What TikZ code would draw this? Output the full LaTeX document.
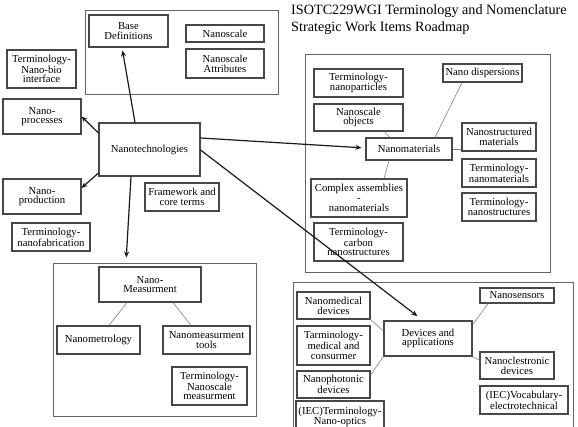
\documentclass[tikz,border=0pt]{standalone}
\usepackage{fontspec}
\setmainfont{Liberation Serif}
\usetikzlibrary{arrows.meta}
\newcommand\mybox[7][box]{%
  \node[#1, minimum width={#5-#3}, minimum height={#6-#4}] (#2) at ({(#3+#5)/2},{(#4+#6)/2}) {#7};}
\begin{document}
\begin{tikzpicture}[x=1pt,y=-1pt,
  box/.style={draw=black!72, line width=1.1pt, fill=white, inner sep=0pt, align=center,
    font=\fontsize{10.7}{9.7}\selectfont, text=black},
  cont/.style={draw=black!60, line width=0.9pt, inner sep=0pt},
  arr/.style={-{Stealth[length=6pt,width=5pt]}, line width=1.2pt, draw=black!90},
  thinline/.style={draw=black!50, line width=0.6pt}]
\useasboundingbox (0,0) rectangle (578,427);
\fill[white] (0,0) rectangle (578,427);

% title
\node[anchor=north west, inner sep=0pt, align=left, font=\fontsize{14.2}{17}\selectfont, text=black]
  (title) at (291,4) {ISOTC229WGI Terminology and Nomenclature\\Strategic Work Items Roadmap};

% containers
\mybox[cont]{topC}{85}{10}{278}{94}{}
\mybox[cont]{measC}{53}{263}{256}{416}{}
\mybox[cont]{matC}{305}{54}{550}{272}{}
\mybox[cont]{devC}{293}{282}{573}{445}{}

% top group
\mybox{base}{89}{15}{168}{47}{Base\\Definitions}
\mybox{nscale}{186}{25}{264}{42}{Nanoscale}
\mybox{nattr}{186}{49}{264}{78}{Nanoscale\\Attributes}

% left column
\mybox{nanobio}{7}{50}{76}{88}{Terminology-\\Nano-bio\\interface}
\mybox{nproc}{3}{99}{81}{134}{Nano-\\processes}
\mybox{ntech}{99}{123}{200}{176}{Nanotechnologies}
\mybox{nprod}{3}{179}{81}{214}{Nano-\\production}
\mybox{frame}{145}{183}{219}{211}{Framework and\\core terms}
\mybox{nfab}{12}{223}{90}{251}{Terminology-\\nanofabrication}

% measurement group
\mybox{nmeas}{99}{267}{201}{302}{Nano-\\Measurment}
\mybox{nmetro}{57}{326}{140}{354}{Nanometrology}
\mybox{nmtools}{163}{326}{250}{354}{Nanomeasurment\\tools}
\mybox{nsmeas}{172}{367}{247}{405}{Terminology-\\Nanoscale\\measurment}

% materials group
\mybox{tnp}{314}{69}{403}{97}{Terminology-\\nanoparticles}
\mybox{nsobj}{314}{104}{403}{131}{Nanoscale\\objects}
\mybox{ndisp}{443}{64}{522}{82}{Nano dispersions}
\mybox{nstruct}{462}{123}{536}{151}{Nanostructured\\materials}
\mybox{nmat}{366}{138}{452}{160}{Nanomaterials}
\mybox{tnm}{462}{159}{536}{187}{Terminology-\\nanomaterials}
\mybox{tns}{462}{193}{536}{221}{Terminology-\\nanostructures}
\mybox{cass}{311}{179}{407}{217}{Complex assemblies\\-\\nanomaterials}
\mybox{tcarb}{314}{223}{403}{261}{Terminology-\\carbon\\nanostructures}

% devices group
\mybox{nmed}{297}{292}{370}{319}{Nanomedical\\devices}
\mybox{tmed}{297}{326}{370}{365}{Tarminology-\\medical and\\consurmer}
\mybox{nphot}{297}{371}{370}{398}{Nanophotonic\\devices}
\mybox{iecopt}{296}{401}{384}{433}{(IEC)Terminology-\\Nano-optics}
\mybox{dev}{384}{321}{472}{356}{Devices and\\applications}
\mybox{nsens}{480}{288}{554}{303}{Nanosensors}
\mybox{nelec}{480}{352}{554}{379}{Nanoclestronic\\devices}
\mybox{iecvoc}{480}{386}{568}{414}{(IEC)Vocabulary-\\electrotechnical}

% thin connectors
\draw[thinline] (ndisp.south -| 462,0) -- (nmat.north -| 435,0);
\draw[thinline] (nsobj.south -| 384,0) -- (nmat.north -| 390,0);
\draw[thinline] (nmat.east) -- (nstruct.west |- nmat.east);
\draw[thinline] (nmat.south -| 389,0) -- (cass.north -| 384,0);
\draw[thinline] (nmeas.south -| 127,0) -- (nmetro.north -| 109,0);
\draw[thinline] (nmeas.south -| 173,0) -- (nmtools.north -| 191,0);
\draw[thinline] (nmed.south east) -- (dev.west |- 0,331);
\draw[thinline] (nphot.east |- 0,375) -- (dev.south west);
\draw[thinline] (nsens.south -| 488,0) -- (dev.east |- 0,325);
\draw[thinline] (dev.south east) -- (nelec.west |- 0,360);

% arrows
\draw[arr, shorten >=3pt] (ntech.north -| 135,0) -- (base.south -| 122,0);
\draw[arr] (ntech.north west |- 0,133) -- (nproc.east);
\draw[arr] (ntech.south west |- 0,173) -- (nprod.east |- 0,188);
\draw[arr, shorten >=5pt] (ntech.south -| 131,0) -- (measC.north -| 126,0);
\draw[arr, shorten >=4pt] (ntech.east |- 0,138) -- (nmat.west |- 0,148);
\draw[arr, shorten >=7pt] (ntech.east |- 0,150) -- (dev.north -| 423,0);
\end{tikzpicture}
\end{document}
